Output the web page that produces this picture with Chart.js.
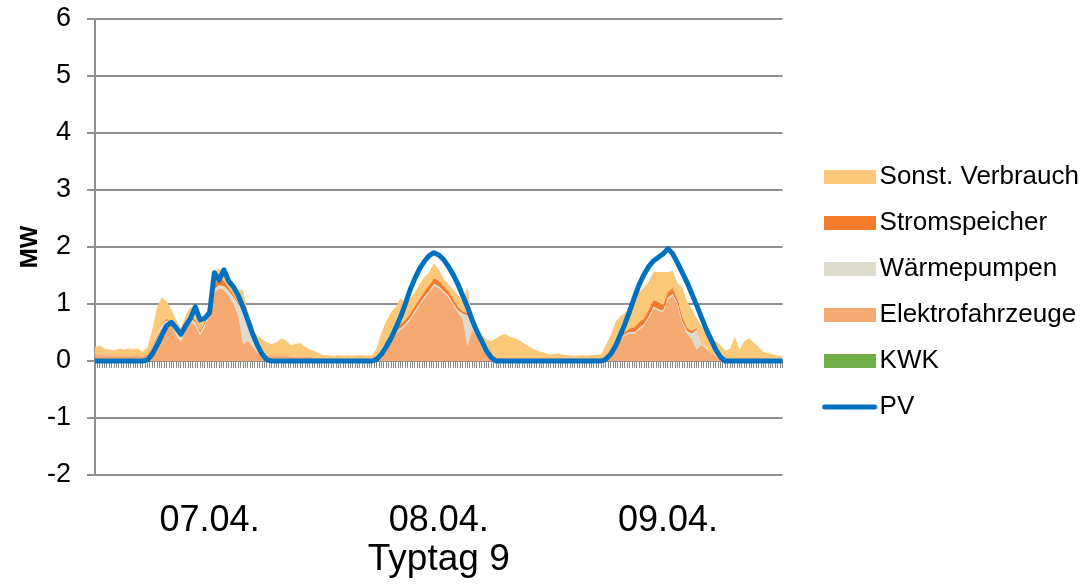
<!DOCTYPE html>
<html>
<head>
<meta charset="utf-8">
<script src="https://cdn.jsdelivr.net/npm/chart.js@4.4.1/dist/chart.umd.min.js"></script>
<style>
  html, body { margin: 0; padding: 0; background: #ffffff; }
  canvas { display: block; }
</style>
</head>
<body>
<canvas id="chart" width="1084" height="584"></canvas>
<script>
// ---------------- data ----------------
const dayLabels = ['07.04.', '08.04.', '09.04.'];
const xAxisTitle = 'Typtag 9';
const yAxisTitle = 'MW';
const yMin = -2, yMax = 6, yStep = 1;

// time slots: hours since 07.04. 00:00, one slot every half hour (0 ... 72)
const hours = Array.from({ length: 145 }, (_, i) => i * 0.5);

const legendOrder = ['Sonst. Verbrauch', 'Stromspeicher', 'Wärmepumpen', 'Elektrofahrzeuge', 'KWK', 'PV'];

// stacked load components in MW (layer thickness)
const kwk = [
  0,0,0,0,0,0,0,0,0,0,0,0,0,0,0,0,0,0,0,0,0,0,0,0,0,0,0,0,0,0,0,0,0,0,0,0,0,0,0,0,0,0,0,0,0,0,0,0,
  0,0,0,0,0,0,0,0,0,0,0,0,0,0,0,0,0,0,0,0,0,0,0,0,0,0,0,0,0,0,0,0,0,0,0,0,0,0,0,0,0,0,0,0,0,0,0,0,
  0,0,0,0,0,0,0,0,0,0,0,0,0,0,0,0,0,0,0,0,0,0,0,0,0,0,0,0,0,0,0,0,0,0,0,0,0,0,0,0,0,0,0,0,0,0,0,0,0
];
const elektrofahrzeuge = [
  .12,.12,.10,.10,.09,.10,.10,.09,.10,.10,.08,.12,.28,.45,.58,.66,.62,.45,.33,.55,.70,.62,.45,.60,
  .80,1.20,1.27,1.25,1.15,1.00,.80,.30,.35,.25,.15,.12,.10,.10,.10,.10,.10,.08,.08,.08,.08,.07,.06,.05,
  .05,.05,.05,.05,.04,.05,.04,.05,.05,.04,.05,.10,.20,.30,.38,.48,.55,.62,.72,.85,.98,1.10,1.20,1.32,
  1.28,1.20,1.12,.98,.85,.75,.25,.55,.42,.25,.12,.06,.05,.05,.05,.05,.05,.05,.05,.05,.05,.05,.05,.05,
  .05,.05,.05,.05,.05,.05,.05,.05,.05,.05,.05,.08,.18,.28,.38,.45,.48,.48,.55,.62,.75,.92,.88,.85,
  1.08,1.15,.97,.66,.48,.38,.20,.28,.22,.15,.08,.05,.05,.05,.05,.05,.05,.05,.05,.05,.05,.05,.05,.04,.04
];
const waermepumpen = [
  0,0,0,0,0,0,0,0,0,0,0,0,0,.03,.05,.05,.05,.05,.05,.05,.05,.05,.04,.04,
  .05,.05,.06,.06,.08,.12,.20,.55,.30,.10,.03,0,0,0,0,0,0,0,0,0,0,0,0,0,
  0,0,0,0,0,0,0,0,0,0,0,0,.02,.02,.03,.03,.03,.03,.03,.03,.03,.03,.03,.03,
  .03,.03,.03,.03,.04,.08,.55,.05,.03,.02,0,0,0,0,0,0,0,0,0,0,0,0,0,0,
  0,0,0,0,0,0,0,0,0,0,0,0,0,.02,.02,.02,.03,.03,.03,.03,.03,.03,.03,.03,
  .03,.03,.03,.03,.04,.10,.35,.03,.02,0,0,0,0,0,0,0,0,0,0,0,0,0,0,0,0
];
const stromspeicher = [
  0,0,0,0,0,0,0,0,0,0,0,0,0,0,.02,.03,0,0,0,.03,.03,.05,.04,.04,
  .05,.10,.12,.10,.05,.04,.03,.03,.03,.02,0,0,0,0,0,0,0,0,0,0,0,0,0,0,
  0,0,0,0,0,0,0,0,0,0,0,0,0,.02,.04,.05,.06,.07,.08,.08,.08,.09,.10,.10,
  .10,.08,.08,.08,.06,.04,.04,.04,.03,0,0,0,0,0,0,0,0,0,0,0,0,0,0,0,
  0,0,0,0,0,0,0,0,0,0,0,0,0,.02,.03,.04,.06,.08,.10,.10,.12,.12,.12,.10,
  .10,.10,.08,.08,.06,.04,.03,.02,0,0,0,0,0,0,0,0,0,0,0,0,0,0,0,0,0
];
const sonstVerbrauch = [
  .12,.15,.12,.10,.10,.12,.10,.13,.11,.12,.08,.13,.27,.47,.47,.31,.23,.22,.20,.17,.17,.18,.15,.10,
  .10,.20,.17,.14,.12,.14,.22,.37,.17,.18,.27,.26,.23,.20,.23,.30,.26,.20,.22,.24,.17,.13,.11,.08,
  .05,.05,.04,.05,.05,.05,.05,.05,.05,.05,.05,.12,.28,.36,.40,.39,.46,.30,.27,.24,.26,.26,.22,.27,
  .19,.14,.12,.16,.20,.18,.46,.11,.07,.18,.26,.29,.35,.40,.43,.37,.35,.31,.25,.20,.15,.12,.10,.07,
  .07,.08,.06,.05,.04,.04,.05,.04,.05,.06,.07,.20,.27,.36,.35,.33,.40,.51,.54,.54,.50,.50,.53,.58,
  .35,.30,.29,.51,.47,.38,.17,.29,.23,.25,.27,.23,.13,.17,.37,.15,.30,.35,.27,.20,.11,.09,.07,.05,.04
];
// PV generation in MW
const pv = [
  0,0,0,0,0,0,0,0,0,0,0,.02,.12,.28,.45,.62,.68,.58,.47,.62,.75,.95,.72,.75,
  .85,1.55,1.42,1.60,1.40,1.30,1.15,.95,.72,.48,.28,.12,.02,0,0,0,0,0,0,0,0,0,0,0,
  0,0,0,0,0,0,0,0,0,0,0,.03,.12,.25,.40,.58,.77,1.00,1.25,1.45,1.62,1.75,1.85,1.90,
  1.86,1.78,1.66,1.52,1.35,1.15,.95,.72,.52,.35,.18,.06,0,0,0,0,0,0,0,0,0,0,0,0,
  0,0,0,0,0,0,0,0,0,0,0,.03,.12,.26,.45,.65,.88,1.12,1.35,1.52,1.66,1.76,1.82,1.88,
  1.97,1.88,1.72,1.55,1.38,1.18,.98,.77,.56,.38,.20,.07,0,0,0,0,0,0,0,0,0,0,0,0,0
];

// ---------------- styling ----------------
const COLORS = {
  sonst: '#FAC878',
  speicher: '#F47B2B',
  wp: '#DDDACE',
  ev: '#F6AA72',
  kwk: '#70AD47',
  pv: '#0070C0',
  grid: '#8f8f8f',
  hatch: '#8a8a8a'
};
const FONT = "'Liberation Sans', Arial, Helvetica, sans-serif";
Chart.defaults.font.family = FONT;
Chart.defaults.color = '#000000';

function swatch(color, isLine) {
  const c = document.createElement('canvas');
  const g = c.getContext('2d');
  if (isLine) {
    c.width = 56; c.height = 8;
    g.strokeStyle = color; g.lineWidth = 5; g.lineCap = 'round';
    g.beginPath(); g.moveTo(3, 4); g.lineTo(53, 4); g.stroke();
  } else {
    c.width = 52; c.height = 14;
    g.fillStyle = color; g.fillRect(0, 0, 52, 14);
  }
  return c;
}

function area(label, values, color, fill) {
  return {
    type: 'line', label, data: values, stack: 'load', fill,
    backgroundColor: color, borderColor: color, borderWidth: 0,
    pointRadius: 0, tension: 0, legendSwatch: swatch(color, false)
  };
}

const datasets = [
  area('KWK', kwk, COLORS.kwk, 'origin'),
  area('Elektrofahrzeuge', elektrofahrzeuge, COLORS.ev, '-1'),
  area('Wärmepumpen', waermepumpen, COLORS.wp, '-1'),
  area('Stromspeicher', stromspeicher, COLORS.speicher, '-1'),
  area('Sonst. Verbrauch', sonstVerbrauch, COLORS.sonst, '-1'),
  {
    type: 'line', label: 'PV', data: pv, stack: 'pv', fill: false, order: -1,
    borderColor: COLORS.pv, backgroundColor: COLORS.pv, borderWidth: 5,
    borderCapStyle: 'round', borderJoinStyle: 'round',
    pointRadius: 0, tension: 0, legendSwatch: swatch(COLORS.pv, true)
  }
];

new Chart(document.getElementById('chart'), {
  type: 'line',
  data: { labels: hours, datasets },
  options: {
    responsive: false,
    animation: false,
    layout: { padding: { top: 0, right: -5, bottom: 0, left: 0 } },
    plugins: {
      tooltip: { enabled: false },
      legend: {
        position: 'right',
        maxWidth: 320,
        labels: {
          font: { size: 26, family: FONT },
          color: '#000000',
          padding: 20,
          usePointStyle: true,
          pointStyleWidth: 34,
          generateLabels(chart) {
            const items = Chart.defaults.plugins.legend.labels.generateLabels(chart);
            items.forEach(it => {
              it.pointStyle = chart.data.datasets[it.datasetIndex].legendSwatch;
            });
            return items;
          },
          sort: (a, b) => legendOrder.indexOf(a.text) - legendOrder.indexOf(b.text)
        }
      }
    },
    scales: {
      x: {
        type: 'linear',
        min: 0, max: 72,
        position: { y: 0 },
        ticks: { display: false, stepSize: 0.25 },
        grid: { drawOnChartArea: false, drawTicks: true, tickLength: 7, color: COLORS.hatch, lineWidth: 1 },
        border: { display: false }
      },
      x2: {
        type: 'category',
        position: 'bottom',
        labels: dayLabels,
        offset: true,
        grid: { display: false, drawTicks: false, tickLength: 0 },
        border: { display: false },
        ticks: { font: { size: 36, family: FONT }, color: '#000000', padding: 24, maxRotation: 0, autoSkip: false },
        title: { display: true, text: xAxisTitle, font: { size: 37, family: FONT }, color: '#000000', padding: { top: 0, bottom: 2 } },
        afterFit(scale) { scale.height = 109; }
      },
      y: {
        type: 'linear',
        position: 'left',
        stacked: true,
        min: yMin, max: yMax,
        ticks: { stepSize: yStep, font: { size: 27, family: FONT }, color: '#000000', padding: 16 },
        grid: { color: COLORS.grid, lineWidth: 2, tickLength: 8, drawTicks: true },
        border: { display: true, color: COLORS.grid, width: 2 },
        title: { display: true, text: yAxisTitle, font: { size: 24, weight: 'bold', family: FONT }, color: '#000000', padding: { top: 16, bottom: 0 } },
        afterFit(scale) { scale.width = 95; scale.paddingTop = 19; }
      },
      yr: {
        type: 'linear',
        position: 'right',
        display: true,
        ticks: { display: false },
        grid: { display: false, drawTicks: false },
        border: { display: false },
        afterFit(scale) { scale.width = 30; }
      }
    }
  }
});
</script>
</body>
</html>
